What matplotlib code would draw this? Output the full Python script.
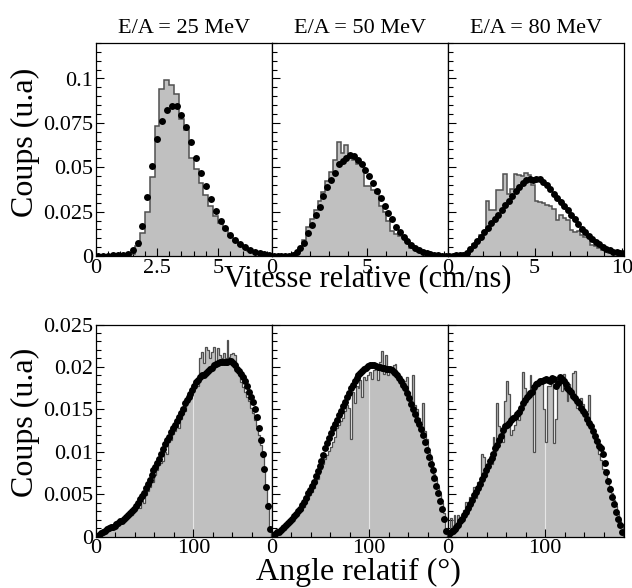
import matplotlib.pyplot as plt
import numpy as np
from matplotlib.ticker import MultipleLocator, FuncFormatter

plt.rcParams['font.family'] = ['Liberation Serif', 'DejaVu Serif']

# ---------------- données : vitesse relative (bins de 0.2 cm/ns) ----------------
titres = ['E/A = 25 MeV', 'E/A = 50 MeV', 'E/A = 80 MeV']
dv = 0.2
vmax = [7.2, 9.2, 10.1]

v_hist_25 = [0, 0, 0, 0.0001, 0.0001, 0.0002, 0.0004, 0.0012, 0.0056, 0.0128,
             0.025, 0.0445, 0.073, 0.094, 0.099, 0.0966, 0.091, 0.077, 0.071, 0.055,
             0.049, 0.0414, 0.0345, 0.028, 0.0225, 0.0185, 0.015, 0.0115, 0.0085, 0.0062,
             0.0045, 0.003, 0.002, 0.0013, 0.0008, 0.0004]
v_pts_25 = [0.0002, 0.0002, 0.0002, 0.0003, 0.0004, 0.0006, 0.0012, 0.0034, 0.0072, 0.017,
            0.033, 0.0505, 0.066, 0.076, 0.0825, 0.0845, 0.0845, 0.0793, 0.0725, 0.064,
            0.0552, 0.0467, 0.0397, 0.0322, 0.0254, 0.02, 0.0156, 0.0119, 0.009, 0.0066,
            0.0049, 0.0034, 0.0024, 0.0015, 0.0011, 0.0006]

v_hist_50 = [0, 0, 0, 0.0001, 0.0001, 0.0002, 0.001, 0.004, 0.009, 0.0165,
             0.021, 0.026, 0.031, 0.0363, 0.042, 0.0476, 0.054, 0.064, 0.058, 0.0627,
             0.055, 0.054, 0.052, 0.051, 0.0395, 0.0395, 0.037, 0.0355, 0.028, 0.025,
             0.0195, 0.014, 0.0125, 0.011, 0.0105, 0.0075, 0.0045, 0.0045, 0.0025, 0.0015,
             0.001, 0.0006, 0.0004, 0.0003, 0.0002, 0.0001]
v_pts_50 = [0.0002, 0.0002, 0.0002, 0.0002, 0.0002, 0.0008, 0.002, 0.0043, 0.0072, 0.0128,
            0.0175, 0.0232, 0.0275, 0.0339, 0.0386, 0.0426, 0.0467, 0.0518, 0.0533, 0.0552,
            0.0571, 0.0561, 0.0539, 0.0518, 0.0482, 0.0448, 0.041, 0.0369, 0.0326, 0.0282,
            0.0241, 0.0207, 0.0166, 0.0137, 0.0109, 0.0085, 0.0062, 0.0047, 0.0034, 0.0024,
            0.0015, 0.001, 0.0006, 0.0004, 0.0002, 0.0001]

v_hist_80 = [0.0003, 0.0003, 0.0003, 0.0003, 0.0003, 0.001, 0.003, 0.007, 0.0075, 0.012,
             0.0135, 0.031, 0.026, 0.026, 0.037, 0.037, 0.046, 0.035, 0.038, 0.046,
             0.0455, 0.045, 0.0465, 0.0455, 0.040, 0.031, 0.0305, 0.030, 0.029, 0.028,
             0.0265, 0.0205, 0.0232, 0.0213, 0.0203, 0.0146, 0.0137, 0.014, 0.0119, 0.0109,
             0.0119, 0.0062, 0.0056, 0.0043, 0.0034, 0.0038, 0.0018, 0.0022, 0.0012, 0.001,
             0.0008]
v_pts_80 = [0.0002, 0.0002, 0.0003, 0.0004, 0.0006, 0.0015, 0.0038, 0.006, 0.0082, 0.0108,
            0.0135, 0.0158, 0.0184, 0.0208, 0.0233, 0.0258, 0.0287, 0.0312, 0.0339, 0.0364,
            0.039, 0.0414, 0.0428, 0.0433, 0.0429, 0.0431, 0.0436, 0.0418, 0.0398, 0.0375,
            0.035, 0.0327, 0.0306, 0.028, 0.0257, 0.0231, 0.0208, 0.018, 0.0153, 0.0133,
            0.0113, 0.0094, 0.0079, 0.0065, 0.0052, 0.0042, 0.0033, 0.0025, 0.002, 0.0017,
            0.0015]

# ---------------- données : angle relatif (bins de 2 degrés) ----------------
da = 2.0
a_hist_25 = [0.0001, 0.0002, 0.0003, 0.0004, 0.0006, 0.0008, 0.0009, 0.0010, 0.0011, 0.0012,
             0.0013, 0.0014, 0.0016, 0.0017, 0.0019, 0.0020, 0.0022, 0.0024, 0.0026, 0.0029,
             0.0031, 0.0036, 0.0034, 0.0042, 0.0040, 0.0049, 0.0054, 0.0058, 0.0066, 0.0064,
             0.0073, 0.0078, 0.0084, 0.0087, 0.0089, 0.0100, 0.0097, 0.0111, 0.0114, 0.0121,
             0.0125, 0.0130, 0.0128, 0.0139, 0.0145, 0.0148, 0.0160, 0.0165, 0.0163, 0.0171,
             0.0180, 0.0186, 0.0178, 0.0210, 0.0218, 0.0205, 0.0223, 0.0220, 0.0210, 0.0218,
             0.0224, 0.0206, 0.0222, 0.0214, 0.0210, 0.0216, 0.0210, 0.0232, 0.0212, 0.0215,
             0.0216, 0.0214, 0.0195, 0.0190, 0.0182, 0.0176, 0.0170, 0.0165, 0.0160, 0.0152,
             0.0146, 0.0138, 0.0130, 0.0120, 0.0108, 0.0094, 0.0078, 0.0060, 0.0040, 0.0012]
a_pts_25 = [0.0001, 0.0002, 0.0004, 0.0005, 0.0007, 0.0009, 0.0010, 0.0011, 0.0012, 0.0013,
            0.0015, 0.0016, 0.0018, 0.0019, 0.0021, 0.0023, 0.0025, 0.0028, 0.0030, 0.0033,
            0.0036, 0.0040, 0.0044, 0.0048, 0.0052, 0.0057, 0.0062, 0.0067, 0.0073, 0.0078,
            0.0082, 0.0087, 0.0091, 0.0097, 0.0103, 0.0109, 0.0114, 0.0118, 0.0123, 0.0128,
            0.0132, 0.0136, 0.0141, 0.0146, 0.0151, 0.0157, 0.0161, 0.0165, 0.0168, 0.0173,
            0.0178, 0.0182, 0.0185, 0.0188, 0.0190, 0.0191, 0.0193, 0.0195, 0.0197, 0.0199,
            0.0202, 0.0204, 0.0205, 0.0206, 0.0206, 0.0206, 0.0206, 0.0206, 0.0207, 0.0207,
            0.0205, 0.0202, 0.0198, 0.0195, 0.0192, 0.0188, 0.0183, 0.0177, 0.0171, 0.0165,
            0.0159, 0.0151, 0.0141, 0.0128, 0.0114, 0.0098, 0.0080, 0.0059, 0.0036, 0.0009]

a_hist_50 = [0.0001, 0.0002, 0.0004, 0.0005, 0.0007, 0.0012, 0.0013, 0.0012, 0.0016, 0.0015,
             0.0018, 0.0021, 0.0024, 0.0026, 0.0030, 0.0032, 0.0035, 0.0040, 0.0044, 0.0049,
             0.0053, 0.0057, 0.0063, 0.0068, 0.0074, 0.0080, 0.0086, 0.0092, 0.0096, 0.0101,
             0.0106, 0.0112, 0.0118, 0.0128, 0.0132, 0.0136, 0.0140, 0.0148, 0.0155, 0.0152,
             0.0115, 0.0170, 0.0158, 0.0178, 0.0175, 0.0185, 0.0165, 0.0188, 0.0185, 0.0190,
             0.0194, 0.0186, 0.0196, 0.0198, 0.0185, 0.0206, 0.0219, 0.0192, 0.0214, 0.0190,
             0.0200, 0.0198, 0.0202, 0.0203, 0.0190, 0.0185, 0.0182, 0.0178, 0.0183, 0.0188,
             0.0170, 0.0160, 0.0190, 0.0155, 0.0150, 0.0140, 0.0135, 0.0157, 0.0125, 0.0115,
             0.0100, 0.0094, 0.0082, 0.0074, 0.0068, 0.0058, 0.0050, 0.0040, 0.0028, 0.0010]
a_pts_50 = [0.0001, 0.0003, 0.0005, 0.0006, 0.0008, 0.0010, 0.0012, 0.0014, 0.0016, 0.0019,
            0.0021, 0.0024, 0.0027, 0.0030, 0.0033, 0.0037, 0.0041, 0.0046, 0.0051, 0.0055,
            0.0060, 0.0065, 0.0071, 0.0077, 0.0083, 0.0089, 0.0096, 0.0104, 0.0110, 0.0116,
            0.0122, 0.0128, 0.0133, 0.0138, 0.0143, 0.0148, 0.0154, 0.0159, 0.0164, 0.0169,
            0.0175, 0.0179, 0.0184, 0.0187, 0.0190, 0.0193, 0.0195, 0.0197, 0.0199, 0.0201,
            0.0202, 0.0202, 0.0202, 0.0201, 0.0200, 0.0200, 0.0199, 0.0199, 0.0198, 0.0198,
            0.0197, 0.0196, 0.0194, 0.0193, 0.0190, 0.0187, 0.0183, 0.0179, 0.0175, 0.0169,
            0.0163, 0.0156, 0.0150, 0.0144, 0.0137, 0.0133, 0.0127, 0.0120, 0.0111, 0.0102,
            0.0094, 0.0086, 0.0078, 0.0069, 0.0060, 0.0051, 0.0042, 0.0033, 0.0021, 0.0007]

a_hist_80 = [0.0004, 0.0022, 0.0010, 0.0025, 0.0014, 0.0026, 0.0020, 0.0018, 0.0031, 0.0041,
             0.0030, 0.0047, 0.0038, 0.0058, 0.0046, 0.0064, 0.0066, 0.0098, 0.0094, 0.0072,
             0.0082, 0.0088, 0.0086, 0.0118, 0.0096, 0.0158, 0.0130, 0.0128, 0.0112, 0.0160,
             0.0183, 0.0168, 0.0120, 0.0126, 0.0132, 0.0140, 0.0138, 0.0152, 0.0194, 0.0175,
             0.0168, 0.0172, 0.0190, 0.0176, 0.0100, 0.0183, 0.0178, 0.0185, 0.0180, 0.0151,
             0.0112, 0.0177, 0.0178, 0.0183, 0.0110, 0.0139, 0.0178, 0.0182, 0.0172, 0.0192,
             0.0175, 0.0160, 0.0180, 0.0170, 0.0193, 0.0195, 0.0152, 0.0150, 0.0163, 0.0156,
             0.0142, 0.0148, 0.0167, 0.0130, 0.0126, 0.0112, 0.0110, 0.0098, 0.0090, 0.0080,
             0.0079, 0.0074, 0.0066, 0.0060, 0.0052, 0.0043, 0.0036, 0.0027, 0.0020, 0.0015]
a_pts_80 = [0.0003, 0.0006, 0.0007, 0.0009, 0.0011, 0.0014, 0.0018, 0.0021, 0.0025, 0.0029,
            0.0034, 0.0038, 0.0043, 0.0049, 0.0053, 0.0057, 0.0062, 0.0068, 0.0073, 0.0078,
            0.0083, 0.0089, 0.0093, 0.0097, 0.0104, 0.0108, 0.0114, 0.0119, 0.0126, 0.0130,
            0.0132, 0.0134, 0.0138, 0.0140, 0.0141, 0.0145, 0.0147, 0.0152, 0.0158, 0.0161,
            0.0164, 0.0167, 0.0169, 0.0171, 0.0176, 0.0180, 0.0181, 0.0183, 0.0184, 0.0185,
            0.0186, 0.0185, 0.0183, 0.0187, 0.0186, 0.0178, 0.0181, 0.0188, 0.0186, 0.0183,
            0.0180, 0.0175, 0.0173, 0.0170, 0.0166, 0.0163, 0.0160, 0.0157, 0.0152, 0.0148,
            0.0144, 0.0139, 0.0134, 0.0130, 0.0125, 0.0119, 0.0113, 0.0107, 0.0104, 0.0098,
            0.0087, 0.0076, 0.0066, 0.0056, 0.0047, 0.0039, 0.0029, 0.0021, 0.0014, 0.0006]

v_hists = [v_hist_25, v_hist_50, v_hist_80]
v_pts = [v_pts_25, v_pts_50, v_pts_80]
a_hists = [a_hist_25, a_hist_50, a_hist_80]
a_pts = [a_pts_25, a_pts_50, a_pts_80]

gris = '#c0c0c0'
contour = '#505050'
W, H = 632, 588
fig = plt.figure(figsize=(W / 100, H / 100), dpi=100)


def panneau(x0, ytop, w, h):
    return fig.add_axes([x0 / W, 1 - (ytop + h) / H, w / W, h / H])


fmt = FuncFormatter(lambda v, p: '%g' % round(v, 4))
x0s = [96, 271.8, 447.7]
pw = 175.8

for i in range(3):
    # --- haut : vitesse relative
    ax = panneau(x0s[i], 43, pw, 213)
    y = np.array(v_hists[i])
    edges = np.arange(len(y) + 1) * dv
    ax.stairs(y, edges, fill=True, color=gris, zorder=1)
    ax.stairs(y, edges, color=contour, lw=1.1, zorder=2)
    p = np.array(v_pts[i])
    ax.plot((np.arange(len(p)) + 0.5) * dv, p, 'o', color='black', ms=5, mew=0, zorder=3)
    ax.set_xlim(0, vmax[i])
    ax.set_ylim(0, 0.12)
    ax.yaxis.set_major_locator(MultipleLocator(0.025))
    ax.yaxis.set_minor_locator(MultipleLocator(0.005))
    if i == 0:
        ax.xaxis.set_major_locator(MultipleLocator(2.5))
        ax.xaxis.set_minor_locator(MultipleLocator(0.5))
    else:
        ax.xaxis.set_major_locator(MultipleLocator(5))
        ax.xaxis.set_minor_locator(MultipleLocator(1))
    ax.set_title(titres[i], fontsize=16, pad=7)

    # --- bas : angle relatif
    bx = panneau(x0s[i], 324.5, pw, 212.2)
    y = np.array(a_hists[i])
    edges = np.arange(len(y) + 1) * da
    bx.stairs(y, edges, fill=True, color=gris, zorder=1)
    k100 = int(100 / da)
    bx.vlines(100, 0, y[k100], color='#e6e6e6', lw=0.8, zorder=1.5)
    bx.stairs(y, edges, color=contour, lw=0.9, zorder=2)
    p = np.array(a_pts[i])
    bx.plot((np.arange(len(p)) + 0.5) * da, p, 'o', color='black', ms=5, mew=0, zorder=3)
    bx.set_xlim(0, 180.5)
    bx.set_ylim(0, 0.025)
    bx.xaxis.set_major_locator(MultipleLocator(100))
    bx.xaxis.set_minor_locator(MultipleLocator(20))
    bx.yaxis.set_major_locator(MultipleLocator(0.005))
    bx.yaxis.set_minor_locator(MultipleLocator(0.001))

    for a in (ax, bx):
        a.tick_params(which='both', direction='in', top=False, right=False, labelsize=16, pad=2)
        a.tick_params(which='major', length=6, width=0.8)
        a.tick_params(which='minor', length=3.5, width=0.8)
        a.xaxis.set_major_formatter(fmt)
        a.yaxis.set_major_formatter(fmt)
        if i > 0:
            a.tick_params(labelleft=False)
        for s in a.spines.values():
            s.set_linewidth(0.9)

fig.text(25 / W, 1 - 142 / H, 'Coups (u.a)', rotation=90, ha='center', va='center', fontsize=23)
fig.text(25 / W, 1 - 422 / H, 'Coups (u.a)', rotation=90, ha='center', va='center', fontsize=23)
fig.text(368 / W, 1 - 286 / H, 'Vitesse relative (cm/ns)', ha='center', va='baseline', fontsize=22)
fig.text(358 / W, 1 - 580 / H, 'Angle relatif (°)', ha='center', va='baseline', fontsize=23)

fig.savefig('out.png', dpi=100)
